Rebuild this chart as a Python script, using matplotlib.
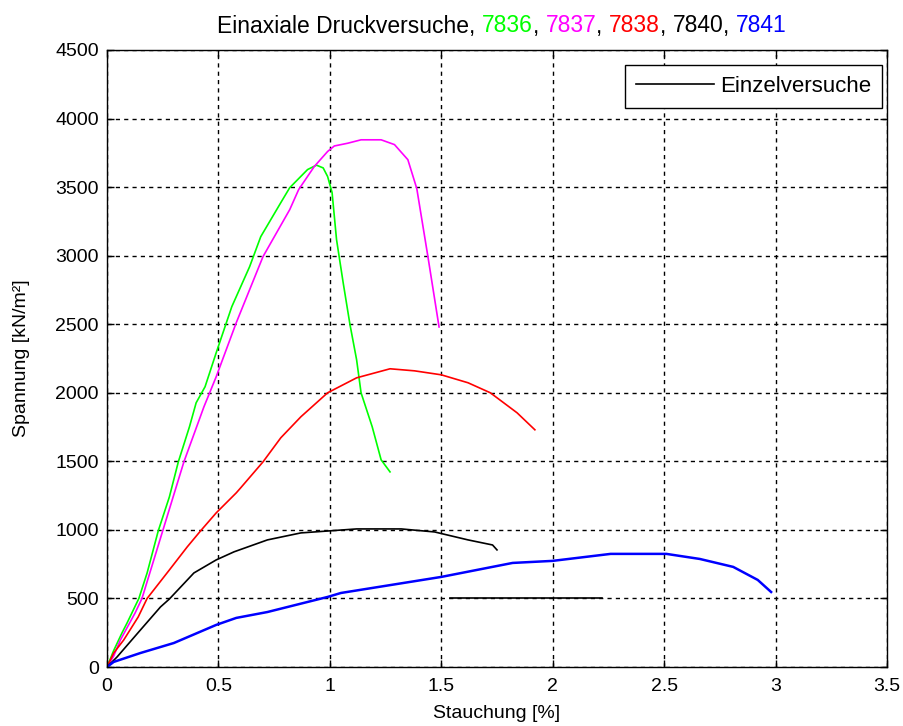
import matplotlib
matplotlib.use("Agg")
import matplotlib.pyplot as plt

plt.rcParams['font.family'] = ['Liberation Sans', 'DejaVu Sans']

# ---- data ----
green_x = [0, 0.03, 0.067, 0.09, 0.143, 0.18, 0.23, 0.28, 0.32, 0.37, 0.40, 0.44, 0.49, 0.56, 0.64,
           0.69, 0.78, 0.82, 0.90, 0.94, 0.97, 0.99, 1.01, 1.03, 1.06, 1.09, 1.12, 1.14, 1.19, 1.23, 1.27]
green_y = [0, 120, 248, 321, 500, 686, 993, 1241, 1496, 1752, 1927, 2044, 2292, 2628, 2920,
           3139, 3387, 3496, 3628, 3660, 3640, 3577, 3460, 3117, 2800, 2500, 2241, 2000, 1752, 1511, 1423]

magenta_x = [0, 0.03, 0.06, 0.126, 0.157, 0.25, 0.345, 0.435, 0.49, 0.58, 0.70, 0.82, 0.86, 0.93,
             0.99, 1.02, 1.08, 1.14, 1.23, 1.29, 1.35, 1.39, 1.44, 1.49]
magenta_y = [0, 80, 197, 394, 500, 993, 1496, 1898, 2117, 2511, 2993, 3336, 3482, 3650,
             3760, 3800, 3820, 3845, 3845, 3810, 3700, 3490, 2993, 2480]

red_x = [0, 0.03, 0.075, 0.14, 0.18, 0.28, 0.36, 0.42, 0.49, 0.58, 0.60, 0.70, 0.78, 0.87, 0.99,
         1.12, 1.27, 1.38, 1.50, 1.62, 1.72, 1.84, 1.92]
red_y = [0, 102, 197, 365, 500, 708, 876, 993, 1124, 1270, 1307, 1496, 1672, 1825, 2000,
         2109, 2175, 2160, 2131, 2073, 2000, 1854, 1730]

black_x = [0, 0.045, 0.15, 0.24, 0.28, 0.39, 0.49, 0.57, 0.72, 0.87, 1.0, 1.12, 1.32, 1.47, 1.62, 1.73, 1.75]
black_y = [0, 73, 270, 438, 496, 686, 781, 840, 927, 978, 993, 1007, 1007, 985, 927, 890, 854]

blue_x = [0, 0.03, 0.15, 0.30, 0.49, 0.58, 0.72, 0.99, 1.05, 1.50, 1.82, 2.0, 2.26, 2.51, 2.66, 2.81, 2.92, 2.98]
blue_y = [0, 37, 102, 175, 307, 358, 401, 511, 540, 657, 759, 774, 825, 825, 788, 730, 635, 547]

stray_x = [1.54, 2.22]
stray_y = [500, 500]

x_ticks = [0, 0.5, 1, 1.5, 2, 2.5, 3, 3.5]
x_ticklabels = ["0", "0.5", "1", "1.5", "2", "2.5", "3", "3.5"]
y_ticks = [0, 500, 1000, 1500, 2000, 2500, 3000, 3500, 4000, 4500]
y_ticklabels = [str(v) for v in y_ticks]

title_parts = [("Einaxiale Druckversuche, ", "black"), ("7836", "#00ff00"), (", ", "black"),
               ("7837", "#ff00ff"), (", ", "black"), ("7838", "#ff0000"), (", ", "black"),
               ("7840", "black"), (", ", "black"), ("7841", "#0000ff")]

# ---- figure ----
W, H = 904, 726
fig = plt.figure(figsize=(W / 100, H / 100), dpi=100)
fig.patch.set_facecolor("white")
ax = fig.add_axes([107 / W, 1 - 667 / H, (887 - 107) / W, (667 - 50) / H])

ax.plot(green_x, green_y, color="#00ff00", lw=1.2)
ax.plot(magenta_x, magenta_y, color="#ff00ff", lw=1.2)
ax.plot(red_x, red_y, color="#ff0000", lw=1.2)
ax.plot(black_x, black_y, color="black", lw=1.2, label="Einzelversuche")
ax.plot(blue_x, blue_y, color="#0000ff", lw=1.8)
ax.plot(stray_x, stray_y, color="black", lw=1.2)

ax.set_xlim(0, 3.5)
ax.set_ylim(0, 4500)
ax.set_xticks(x_ticks)
ax.set_xticklabels(x_ticklabels)
ax.set_yticks(y_ticks)
ax.set_yticklabels(y_ticklabels)
ax.tick_params(direction="in", top=True, right=True, length=5, width=1, labelsize=14, colors="black")
ax.tick_params(axis="x", pad=8)
ax.tick_params(axis="y", pad=6)
ax.grid(True, color="black", linestyle=(0, (3, 3)), linewidth=1)
for s in ax.spines.values():
    s.set_linewidth(1)
    s.set_color("black")

ax.set_xlabel("Stauchung [%]", fontsize=14, labelpad=7)
ax.set_ylabel("Spannung [kN/m²]", fontsize=14, labelpad=18)

leg = ax.legend(loc="upper right", bbox_to_anchor=((882 - 107) / 780, (667 - 65) / 617),
                borderaxespad=0, fontsize=16, handlelength=3.5, fancybox=False,
                edgecolor="black", framealpha=1, borderpad=0.5, handletextpad=0.25)
leg.get_frame().set_linewidth(1)

# ---- multicolour title ----
fig.canvas.draw()
renderer = fig.canvas.get_renderer()
texts = []
x = 0
ty = 1 - 26 / H
for s, c in title_parts:
    t = fig.text(x, ty, s, color=c, fontsize=16.5, va="center", ha="left")
    texts.append(t)
    fig.canvas.draw()
    bb = t.get_window_extent(renderer)
    x = bb.x1 / W
total = x * W
start = 502 - total / 2
for t in texts:
    px, py = t.get_position()
    t.set_position((px + start / W, py))

fig.savefig("out.png", dpi=100, facecolor="white")
